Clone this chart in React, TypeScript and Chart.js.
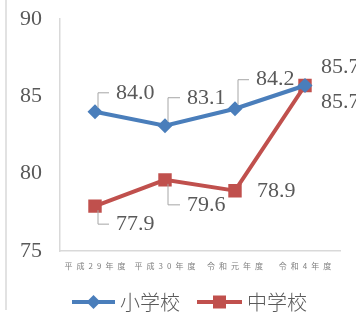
import React, { useEffect, useRef } from "react";
import { Chart, registerables } from "chart.js";

Chart.register(...registerables);

const categories = ["平成29年度", "平成30年度", "令和元年度", "令和4年度"];
const elementary = [84.0, 83.1, 84.2, 85.7];
const juniorHigh = [77.9, 79.6, 78.9, 85.7];
const seriesNames = ["小学校", "中学校"];
const yMin = 75;
const yMax = 90;
const yStep = 5;

const BLUE = "#4a7ebb";
const RED = "#c0504d";
const TEXT = "#595959";
const AXIS = "#d9d9d9";

// label placement (dx = text left from point, dy = text center from point)
const labelPlacement = [
  [
    { dx: 21, dy: -19, leader: true },
    { dx: 22, dy: -28, leader: true },
    { dx: 21, dy: -29, leader: true },
    { dx: 16, dy: -18, leader: false },
  ],
  [
    { dx: 21, dy: 18, leader: true },
    { dx: 22, dy: 25, leader: true },
    { dx: 22, dy: 1, leader: false },
    { dx: 16, dy: 17, leader: false },
  ],
];

const extrasPlugin = {
  id: "extras",
  beforeDraw(chart: any) {
    const ctx = chart.ctx;
    ctx.save();
    ctx.strokeStyle = AXIS;
    ctx.lineWidth = 1.5;
    ctx.beginPath();
    ctx.moveTo(6, 0);
    ctx.lineTo(6, 310);
    ctx.stroke();
    ctx.restore();
  },
  afterDatasetsDraw(chart: any) {
    const ctx = chart.ctx;
    ctx.save();
    chart.data.datasets.forEach((ds: any, di: number) => {
      const meta = chart.getDatasetMeta(di);
      meta.data.forEach((pt: any, i: number) => {
        const p = labelPlacement[di][i];
        const tx = pt.x + p.dx;
        const ty = pt.y + p.dy;
        if (p.leader) {
          const vx = pt.x + 3;
          const sy = p.dy < 0 ? pt.y - 4 : pt.y + 4;
          ctx.strokeStyle = "#a6a6a6";
          ctx.lineWidth = 1;
          ctx.beginPath();
          ctx.moveTo(vx, sy);
          ctx.lineTo(vx, ty);
          ctx.lineTo(tx - 7, ty);
          ctx.stroke();
        }
        ctx.fillStyle = TEXT;
        ctx.font = "22px 'Liberation Serif', serif";
        ctx.textAlign = "left";
        ctx.textBaseline = "middle";
        ctx.fillText(Number(ds.data[i]).toFixed(1), tx, ty);
      });
    });
    ctx.restore();
  },
  afterDraw(chart: any) {
    const ctx = chart.ctx;
    ctx.save();
    const items = [
      { x0: 72, x1: 115, color: BLUE, style: "diamond", text: seriesNames[0], tx: 120 },
      { x0: 197, x1: 242, color: RED, style: "square", text: seriesNames[1], tx: 247 },
    ];
    const y = 302;
    items.forEach((it) => {
      ctx.strokeStyle = it.color;
      ctx.lineWidth = 4;
      ctx.beginPath();
      ctx.moveTo(it.x0, y);
      ctx.lineTo(it.x1, y);
      ctx.stroke();
      const cx = (it.x0 + it.x1) / 2;
      ctx.fillStyle = it.color;
      ctx.beginPath();
      if (it.style === "diamond") {
        ctx.moveTo(cx, y - 7);
        ctx.lineTo(cx + 7, y);
        ctx.lineTo(cx, y + 7);
        ctx.lineTo(cx - 7, y);
        ctx.closePath();
      } else {
        ctx.rect(cx - 6.5, y - 6.5, 13, 13);
      }
      ctx.fill();
      ctx.fillStyle = TEXT;
      ctx.font = "300 20px 'Noto Sans CJK JP', sans-serif";
      ctx.textAlign = "left";
      ctx.textBaseline = "middle";
      ctx.fillText(it.text, it.tx, y);
    });
    ctx.restore();
  },
};

export default function App() {
  const ref = useRef<HTMLCanvasElement>(null);
  useEffect(() => {
    if (!ref.current) return;
    const chart = new Chart(ref.current, {
      type: "line",
      data: {
        labels: categories,
        datasets: [
          {
            label: seriesNames[0],
            data: elementary,
            borderColor: BLUE,
            backgroundColor: BLUE,
            borderWidth: 4,
            pointStyle: "rectRot",
            pointRadius: 7.5,
            pointBorderWidth: 0,
            tension: 0,
          },
          {
            label: seriesNames[1],
            data: juniorHigh,
            borderColor: RED,
            backgroundColor: RED,
            borderWidth: 4,
            pointStyle: "rect",
            pointRadius: 9.5,
            pointBorderWidth: 0,
            tension: 0,
          },
        ],
      },
      options: {
        responsive: false,
        animation: false,
        layout: { padding: { top: 19, right: 16, bottom: 41, left: 0 } },
        plugins: {
          legend: { display: false },
          tooltip: { enabled: false },
        },
        scales: {
          x: {
            offset: true,
            grid: { display: false, drawTicks: false },
            border: { color: AXIS, width: 1.5 },
            ticks: {
              color: "#7f7f7f",
              padding: 10,
              maxRotation: 0,
              autoSkip: false,
              font: { size: 8, family: "'Noto Sans CJK JP', sans-serif" },
              callback: (_v: any, i: number) => categories[i].split("").join("\u2002"),
            },
            afterFit: (s: any) => {
              s.height = 25;
              s.paddingLeft = 0;
              s.paddingRight = 0;
            },
          },
          y: {
            min: yMin,
            max: yMax,
            grid: { display: false, drawTicks: false },
            border: { color: AXIS, width: 1.5 },
            ticks: {
              stepSize: yStep,
              color: TEXT,
              padding: 18,
              font: { size: 22, family: "'Liberation Serif', serif" },
            },
            afterFit: (s: any) => {
              s.width = 60;
              s.paddingTop = 0;
              s.paddingBottom = 0;
            },
          },
        },
      },
      plugins: [extrasPlugin],
    });
    return () => chart.destroy();
  }, []);
  return (
    <div style={{ position: "absolute", left: 0, top: 0, width: 356, height: 317, background: "#fff" }}>
      <canvas ref={ref} width={356} height={317} style={{ display: "block" }} />
    </div>
  );
}
